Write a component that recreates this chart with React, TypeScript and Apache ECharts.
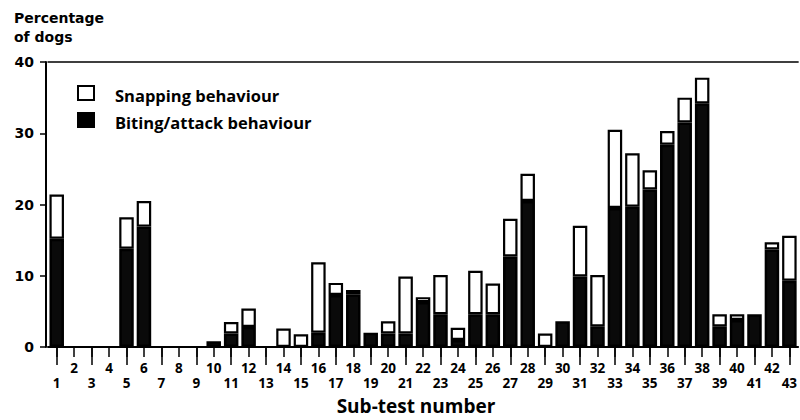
import React, { useEffect, useRef } from "react";
import * as echarts from "echarts";

const categories = [
  "1", "2", "3", "4", "5", "6", "7", "8", "9", "10",
  "11", "12", "13", "14", "15", "16", "17", "18", "19", "20",
  "21", "22", "23", "24", "25", "26", "27", "28", "29", "30",
  "31", "32", "33", "34", "35", "36", "37", "38", "39", "40",
  "41", "42", "43",
];

// Biting/attack behaviour (black part of each bar), % of dogs
const bitingValues = [
  15.2, 0, 0, 0, 13.8, 16.9, 0, 0, 0, 0.8,
  1.9, 2.8, 0, 0, 0, 2.0, 7.3, 7.4, 2.0, 1.9,
  1.9, 6.3, 4.6, 1.0, 4.6, 4.6, 12.7, 20.5, 0, 3.6,
  9.9, 2.9, 19.5, 19.7, 22.1, 28.4, 31.5, 34.2, 2.9, 3.8,
  4.6, 13.7, 9.3,
];

// Snapping behaviour (white part stacked on top), % of dogs
const snappingValues = [
  6.2, 0, 0, 0, 4.4, 3.6, 0, 0, 0, 0,
  1.6, 2.6, 0, 2.6, 1.8, 9.9, 1.7, 0.6, 0, 1.7,
  8.0, 0.7, 5.5, 1.7, 6.1, 4.3, 5.3, 3.8, 1.9, 0,
  7.1, 7.2, 11.0, 7.5, 2.7, 1.9, 3.5, 3.6, 1.7, 0.8,
  0, 1.0, 6.3,
];

const yMin = 0;
const yMax = 40;
const yStep = 10;

const yAxisTitle = ["Percentage", "of dogs"];
const xAxisTitle = "Sub-test number";
const legendLabels = ["Snapping behaviour", "Biting/attack behaviour"];

// zero-height parts are not drawn (no outline on the baseline)
const asBarData = (vals: number[]) => vals.map((v) => (v === 0 ? "-" : v));

export default function App() {
  const ref = useRef<HTMLDivElement>(null);

  useEffect(() => {
    if (!ref.current) return;
    const chart = echarts.init(ref.current, null, { renderer: "svg" });

    const tickFont = {
      fontFamily: "Open Sans",
      fontWeight: "bold" as const,
      fontSize: 13.5,
      color: "#000",
    };

    chart.setOption({
      animation: false,
      backgroundColor: "#fff",
      grid: { left: 48, top: 62, width: 758, bottom: 73, containLabel: false },
      xAxis: [
        {
          type: "category",
          data: categories,
          position: "bottom",
          axisLine: { show: true, onZero: false, lineStyle: { color: "#000", width: 2 } },
          axisTick: { show: true, alignWithLabel: true, interval: 0, length: 10, lineStyle: { color: "#000", width: 1.5 } },
          axisLabel: {
            interval: 0,
            margin: 13,
            lineHeight: 15,
            ...tickFont,
            formatter: (v: string, i: number) => (i % 2 === 0 ? `\n${v}` : v),
          },
          splitLine: { show: false },
        },
        {
          type: "category",
          data: categories,
          position: "bottom",
          axisLine: { show: false },
          axisTick: {
            show: true,
            alignWithLabel: true,
            interval: (i: number) => i % 2 === 0,
            length: 18,
            lineStyle: { color: "#000", width: 1.5 },
          },
          axisLabel: { show: false },
          splitLine: { show: false },
        },
        {
          type: "category",
          data: categories,
          position: "top",
          axisLine: { show: true, onZero: false, lineStyle: { color: "#000", width: 1.5 } },
          axisTick: { show: false },
          axisLabel: { show: false },
          splitLine: { show: false },
        },
      ],
      yAxis: {
        type: "value",
        min: yMin,
        max: yMax,
        interval: yStep,
        offset: 2,
        axisLine: { show: true, lineStyle: { color: "#000", width: 2 } },
        axisTick: { show: true, length: 6, lineStyle: { color: "#000", width: 1.5 } },
        axisLabel: {
          margin: 12,
          fontFamily: "DejaVu Sans",
          fontWeight: "bold",
          fontSize: 14,
          color: "#000",
        },
        splitLine: { show: false },
      },
      series: [
        {
          name: legendLabels[1],
          type: "bar",
          stack: "dogs",
          xAxisIndex: 0,
          z: 2,
          data: asBarData(bitingValues),
          barWidth: 14.5,
          itemStyle: { color: "#0a0a0a", borderColor: "#000", borderWidth: 2.5 },
        },
        {
          name: legendLabels[0],
          type: "bar",
          stack: "dogs",
          xAxisIndex: 0,
          z: 3,
          data: asBarData(snappingValues),
          barWidth: 14.5,
          itemStyle: { color: "#fff", borderColor: "#000", borderWidth: 2.2 },
        },
      ],
      graphic: [
        {
          type: "text",
          left: 14,
          top: 11,
          style: { text: yAxisTitle[0], fontFamily: "DejaVu Sans", fontWeight: "bold", fontSize: 14, fill: "#000" },
        },
        {
          type: "text",
          left: 14,
          top: 30,
          style: { text: yAxisTitle[1], fontFamily: "DejaVu Sans", fontWeight: "bold", fontSize: 14, fill: "#000" },
        },
        {
          type: "rect",
          shape: { x: 78, y: 86, width: 16, height: 14 },
          style: { fill: "#fff", stroke: "#000", lineWidth: 2 },
        },
        {
          type: "rect",
          shape: { x: 78, y: 113, width: 16, height: 14 },
          style: { fill: "#000", stroke: "#000", lineWidth: 2 },
        },
        {
          type: "text",
          x: 115,
          y: 95,
          style: {
            text: legendLabels[0],
            fontFamily: "Open Sans",
            fontWeight: "bold",
            fontSize: 16.5,
            fill: "#000",
            verticalAlign: "middle",
          },
        },
        {
          type: "text",
          x: 115,
          y: 122,
          style: {
            text: legendLabels[1],
            fontFamily: "Open Sans",
            fontWeight: "bold",
            fontSize: 16.5,
            fill: "#000",
            verticalAlign: "middle",
          },
        },
        {
          type: "text",
          x: 416,
          y: 406,
          style: {
            text: xAxisTitle,
            fontFamily: "Open Sans",
            fontWeight: "bold",
            fontSize: 19,
            fill: "#000",
            align: "center",
            verticalAlign: "middle",
          },
        },
      ],
    });

    return () => chart.dispose();
  }, []);

  return (
    <div
      ref={ref}
      style={{ position: "absolute", left: 0, top: 0, width: 800, height: 420 }}
    />
  );
}
